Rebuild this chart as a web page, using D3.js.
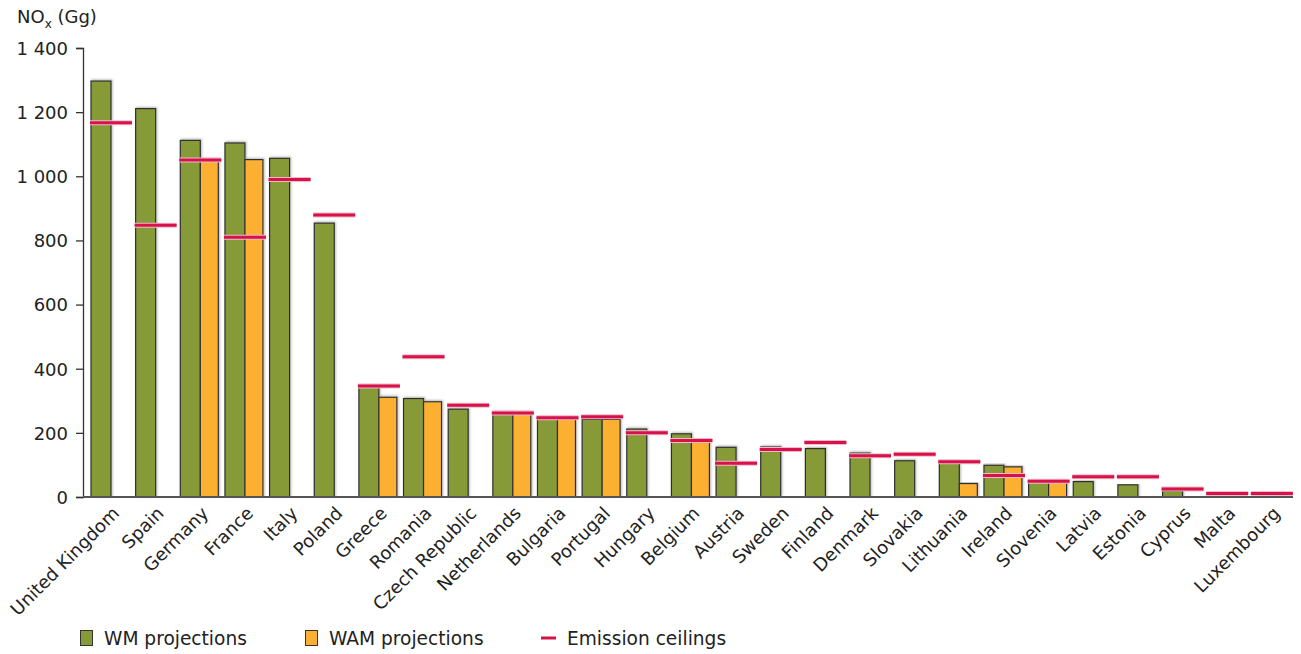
<!DOCTYPE html>
<html><head><meta charset="utf-8">
<script src="https://cdn.jsdelivr.net/npm/d3@7"></script>
<style>
body{margin:0;background:#fff;}
text{font-family:"DejaVu Sans",Verdana,sans-serif;fill:#222;}
</style></head>
<body><svg id="c" width="1301" height="654"></svg>
<script>
const countries = ["United Kingdom","Spain","Germany","France","Italy","Poland","Greece","Romania","Czech Republic","Netherlands","Bulgaria","Portugal","Hungary","Belgium","Austria","Sweden","Finland","Denmark","Slovakia","Lithuania","Ireland","Slovenia","Latvia","Estonia","Cyprus","Malta","Luxembourg"];
const wm =  [1297,1211,1112,1104,1056,854,345,307,274,264,247,242,212,197,155,156,151,137,113,111,99,48,48,38,19,7,null];
const wam = [null,null,1052,1052,null,null,311,297,null,263,247,242,null,176,null,null,null,null,null,42,94,48,null,null,null,null,null];
const ceilings = [1167,847,1051,810,990,879,346,437,286,262,247,250,200,176,105,148,170,129,133,110,67,49,63,63,25,11,11];
const yTicks = [0,200,400,600,800,1000,1200,1400];
const seriesNames = ["WM projections","WAM projections","Emission ceilings"];

const colWM = "#879a38", colWAM = "#fbb033", colCeil = "#d6124b";
const svg = d3.select("#c");
const defs = svg.append("defs");
const f = defs.append("filter").attr("id","sh").attr("x","-20%").attr("y","-5%").attr("width","140%").attr("height","110%");
f.append("feDropShadow").attr("dx",1).attr("dy",-1).attr("stdDeviation",0.8).attr("flood-color","#888").attr("flood-opacity",0.6);

const x = d3.scaleBand().domain(countries).range([88.5,1294]).padding(0);
const y = d3.scaleLinear().domain([0,1400]).range([497,48]);
const fmt = v => v >= 1000 ? d3.format(",")(v).replace(",", " ") : String(v);

// y axis
const ya = svg.append("g").attr("transform","translate(83,0)")
  .call(d3.axisLeft(y).tickValues(yTicks).tickSize(7).tickPadding(8).tickFormat(fmt));
ya.select(".domain").attr("stroke","#333").attr("stroke-width",1.3);
ya.selectAll(".tick line").attr("stroke","#333").attr("stroke-width",1.3);
ya.selectAll(".tick text").style("font-size","18px").attr("fill","#222").attr("dy","0.35em");

// bars
const g = svg.append("g");
countries.forEach((c,i) => {
  const x0 = x(c);
  if (wm[i] != null) {
    g.append("rect").attr("x",x0+2.5).attr("width",20).attr("y",y(wm[i])).attr("height",y(0)-y(wm[i]))
      .attr("fill",colWM).attr("stroke","#2e2e2e").attr("stroke-width",1.2).attr("filter","url(#sh)");
  }
  if (wam[i] != null) {
    g.append("rect").attr("x",x0+22.5).attr("width",18).attr("y",y(wam[i])).attr("height",y(0)-y(wam[i]))
      .attr("fill",colWAM).attr("stroke","#2e2e2e").attr("stroke-width",1.2).attr("filter","url(#sh)");
  }
});

// x axis
const xa = svg.append("g").attr("transform","translate(0,497)");
xa.append("line").attr("x1",83).attr("x2",1293).attr("y1",0).attr("y2",0).attr("stroke","#555").attr("stroke-width",2);

// ceilings
countries.forEach((c,i) => {
  const x0 = x(c);
  svg.append("line").attr("x1",x0+1.5).attr("x2",x0+43.5).attr("y1",y(ceilings[i])).attr("y2",y(ceilings[i]))
    .attr("stroke","#f4b8c8").attr("stroke-width",5);
  svg.append("line").attr("x1",x0+1.5).attr("x2",x0+43.5).attr("y1",y(ceilings[i])).attr("y2",y(ceilings[i]))
    .attr("stroke",colCeil).attr("stroke-width",3);
});

// category labels
countries.forEach(c => {
  const cx = x(c) + x.bandwidth()/2 + 5;
  svg.append("text").attr("transform",`translate(${cx},510) rotate(-45)`)
    .attr("text-anchor","end").style("font-size","18px").attr("dy","0.35em").text(c);
});

// y title
const t = svg.append("text").attr("x",17).attr("y",23).style("font-size","18px");
t.append("tspan").text("NO");
t.append("tspan").attr("dy",5).style("font-size","12px").text("x");
t.append("tspan").attr("dy",-5).text(" (Gg)");

// legend
const lg = svg.append("g");
lg.append("rect").attr("x",80.5).attr("y",630.5).attr("width",12).attr("height",15).attr("fill",colWM).attr("stroke","#333");
lg.append("text").attr("x",104).attr("y",645).style("font-size","18.6px").text(seriesNames[0]);
lg.append("rect").attr("x",305.5).attr("y",630.5).attr("width",12).attr("height",15).attr("fill",colWAM).attr("stroke","#333");
lg.append("text").attr("x",329).attr("y",645).style("font-size","18.6px").text(seriesNames[1]);
lg.append("line").attr("x1",541).attr("x2",556).attr("y1",638).attr("y2",638).attr("stroke",colCeil).attr("stroke-width",3);
lg.append("text").attr("x",567).attr("y",645).style("font-size","18.6px").text(seriesNames[2]);
</script></body></html>
